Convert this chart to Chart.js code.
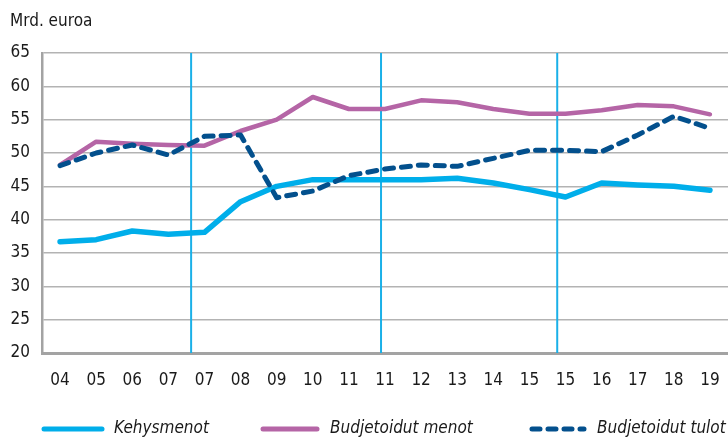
<!DOCTYPE html>
<html>
<head>
<meta charset="utf-8">
<script src="https://cdn.jsdelivr.net/npm/chart.js@4.4.1/dist/chart.umd.min.js"></script>
<style>
html,body{margin:0;padding:0;background:#fff;}
#wrap{position:relative;width:728px;height:441px;}
</style>
</head>
<body>
<div id="wrap"><canvas id="c" width="728" height="441"></canvas></div>
<script>
const categories = ['04','05','06','07','07','08','09','10','11','11','12','13','14','15','15','16','17','18','19'];
const kehysmenot = [36.7,37.0,38.3,37.8,38.1,42.7,45.0,46.0,46.0,46.0,46.0,46.2,45.5,44.5,43.4,45.5,45.2,45.0,44.4];
const budjetoidutMenot = [48.2,51.7,51.4,51.2,51.1,53.3,55.0,58.4,56.6,56.6,57.9,57.6,56.6,55.9,55.9,56.4,57.2,57.0,55.8];
const budjetoidutTulot = [48.1,50.0,51.2,49.7,52.5,52.7,43.3,44.3,46.6,47.6,48.2,48.0,49.2,50.4,50.4,50.2,52.7,55.5,53.7];
const seriesNames = ['Kehysmenot','Budjetoidut menot','Budjetoidut tulot'];
const yTicks = [20,25,30,35,40,45,50,55,60,65];
const markerPositions = [3.63, 8.89, 13.77];
const unitLabel = 'Mrd. euroa';

const FONT = '"Liberation Sans Narrow", "DejaVu Sans Condensed", "Roboto Condensed", sans-serif';
const CYAN = '#00aeea';
const PURPLE = '#b565a6';
const NAVY = '#03508d';

const extras = {
  id: 'extras',
  beforeDatasetsDraw(chart) {
    const ctx = chart.ctx, x = chart.scales.x, a = chart.chartArea;
    ctx.save();
    ctx.strokeStyle = '#1ab0e8';
    ctx.lineWidth = 2;
    markerPositions.forEach(p => {
      const px = x.getPixelForValue(p);
      ctx.beginPath();
      ctx.moveTo(px, a.top);
      ctx.lineTo(px, a.bottom);
      ctx.stroke();
    });
    ctx.restore();
  },
  afterDraw(chart) {
    const ctx = chart.ctx;
    ctx.save();
    ctx.fillStyle = '#1a1a1a';
    ctx.font = '17px ' + FONT;
    ctx.textBaseline = 'middle';
    ctx.textAlign = 'left';
    ctx.fillText(unitLabel, 10, 22);
    const items = [
      {x0: 44, x1: 102, tx: 114, color: CYAN, dash: [], w: 5},
      {x0: 263, x1: 317, tx: 330, color: PURPLE, dash: [], w: 5},
      {x0: 532, x1: 584, tx: 597, color: NAVY, dash: [8, 8], w: 5}
    ];
    const ly = 429;
    items.forEach((it, i) => {
      ctx.strokeStyle = it.color;
      ctx.lineWidth = it.w;
      ctx.lineCap = 'round';
      ctx.setLineDash(it.dash);
      ctx.beginPath();
      ctx.moveTo(it.x0, ly);
      ctx.lineTo(it.x1, ly);
      ctx.stroke();
      ctx.setLineDash([]);
      ctx.fillStyle = '#1a1a1a';
      ctx.font = 'italic 17px ' + FONT;
      ctx.fillText(seriesNames[i], it.tx, ly);
    });
    ctx.restore();
  }
};

new Chart(document.getElementById('c'), {
  type: 'line',
  data: {
    labels: categories,
    datasets: [
      {label: seriesNames[0], data: kehysmenot, borderColor: CYAN, borderWidth: 5.5, pointRadius: 0, tension: 0, borderCapStyle: 'round', borderJoinStyle: 'round', order: 3},
      {label: seriesNames[1], data: budjetoidutMenot, borderColor: PURPLE, borderWidth: 4.5, pointRadius: 0, tension: 0, borderCapStyle: 'round', borderJoinStyle: 'round', order: 2},
      {label: seriesNames[2], data: budjetoidutTulot, borderColor: NAVY, borderWidth: 5, borderDash: [9, 8], pointRadius: 0, tension: 0, borderCapStyle: 'round', borderJoinStyle: 'round', order: 1}
    ]
  },
  options: {
    responsive: false,
    animation: false,
    devicePixelRatio: 1,
    layout: {padding: {top: 53, right: 0, left: 0, bottom: 0}},
    plugins: {legend: {display: false}, tooltip: {enabled: false}, title: {display: false}},
    scales: {
      x: {
        type: 'category',
        offset: true,
        grid: {display: false, drawTicks: false},
        border: {display: true, color: '#a3a3a3', width: 3},
        ticks: {color: '#1a1a1a', font: {family: FONT, size: 17}, padding: 17, maxRotation: 0, autoSkip: false},
        afterFit(s) { s.height = 88; s.paddingLeft = 0; s.paddingRight = 0; }
      },
      y: {
        min: 20, max: 65,
        afterBuildTicks(s) { s.ticks = yTicks.map(v => ({value: v})); },
        grid: {color: '#b3b3b3', lineWidth: 1.5, drawTicks: false},
        border: {display: true, color: '#a3a3a3', width: 2.5},
        ticks: {color: '#1a1a1a', font: {family: FONT, size: 17}, padding: 12},
        afterFit(s) { s.width = 42; }
      }
    }
  },
  plugins: [extras]
});
</script>
</body>
</html>
